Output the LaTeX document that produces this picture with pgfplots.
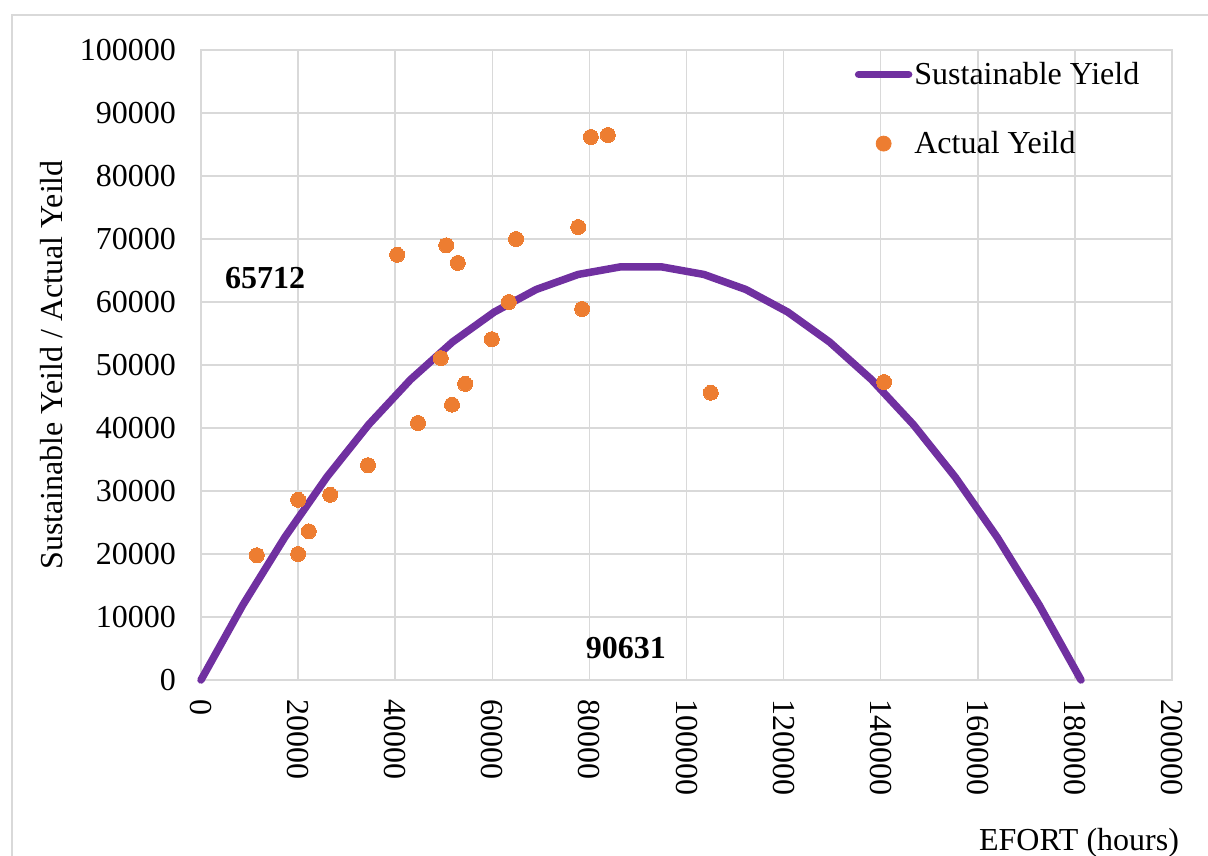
\documentclass[border=0pt]{standalone}
\usepackage{pgfplots}
\pgfplotsset{compat=1.18}
\usepackage{fontspec}
\setmainfont{Liberation Serif}
\definecolor{syc}{HTML}{7030A0}
\definecolor{ayc}{HTML}{ED7D31}
\definecolor{gridc}{HTML}{D9D9D9}
\begin{document}
\begin{tikzpicture}
\useasboundingbox (-100.5bp,-88bp) rectangle (503.5bp,340bp);
\draw[gridc, line width=0.75bp] (-94.5bp,-100bp) -- (-94.5bp,332.5bp) -- (520bp,332.5bp);
\begin{axis}[
  at={(0,0)}, anchor=south west,
  scale only axis, width=485.5bp, height=315bp,
  xmin=0, xmax=200000, ymin=0, ymax=100000,
  xtick={0,20000,40000,60000,80000,100000,120000,140000,160000,180000,200000},
  xticklabels={0,20000,40000,60000,80000,100000,120000,140000,160000,180000,200000},
  ytick={0,10000,20000,30000,40000,50000,60000,70000,80000,90000,100000},
  yticklabels={0,10000,20000,30000,40000,50000,60000,70000,80000,90000,100000},
  scaled ticks=false,
  font=\fontsize{16bp}{19bp}\selectfont,
  ticklabel style={font=\fontsize{16bp}{19bp}\selectfont},
  xticklabel style={rotate=-90, anchor=west, xshift=6bp},
  yticklabel style={xshift=-9bp},
  major tick length=0pt,
  grid=major,
  major grid style={gridc, line width=0.75bp},
  axis line style={gridc, line width=0.75bp},
  ylabel={Sustainable Yeild / Actual Yeild},
  ylabel style={at={(axis description cs:-0.1535,0.5)}, anchor=center},
  legend style={draw=none, fill=none, at={(rel axis cs:0.673,0.985)}, anchor=north west,
    row sep=20bp, inner sep=0pt, nodes={inner sep=1pt},
    font=\fontsize{16bp}{19bp}\selectfont},
  legend cell align=left,
  clip=false,
]
\addplot[syc, line width=3.75bp, line join=round, line cap=round,
  legend image code/.code={\draw[syc, line width=3.75bp, line cap=round] (1.75bp,0bp) -- (26.75bp,0bp);}]
  table {
x y
0 0
8631.5 11921
17263 22650
25894.5 32187
34526 40531
43157.5 47684
51789 53644
60420.5 58413
69052 61989
77683.5 64373
86315 65565
94946.5 65565
103578 64373
112209.5 61989
120841 58413
129472.5 53644
138104 47684
146735.5 40531
155367 32187
163998.5 22650
172630 11921
181261.5 0
};
\addlegendentry{Sustainable Yield}
\addplot[only marks, mark=*, mark size=3.75bp, mark options={fill=ayc, draw=ayc, line width=0pt},
  legend image code/.code={\fill[ayc] (14.25bp,0bp) circle (3.75bp);}]
  table {
x y
11500 19800
20000 28600
20000 20000
22200 23600
26600 29400
34400 34100
40400 67500
44700 40800
49400 51100
50500 69000
51700 43700
52900 66200
54400 47000
59900 54100
63400 60000
64900 70000
77700 71900
78500 58900
80300 86200
83800 86500
105000 45600
140700 47300
};
\addlegendentry{Actual Yeild}
\node[font=\fontsize{16bp}{19bp}\selectfont\bfseries] at (axis cs:13200,63800) {65712};
\node[font=\fontsize{16bp}{19bp}\selectfont\bfseries] at (axis cs:87500,5100) {90631};
\end{axis}
\node[anchor=base east, font=\fontsize{16bp}{19bp}\selectfont] at (492.5bp,-85bp) {EFORT (hours)};
\end{tikzpicture}
\end{document}
